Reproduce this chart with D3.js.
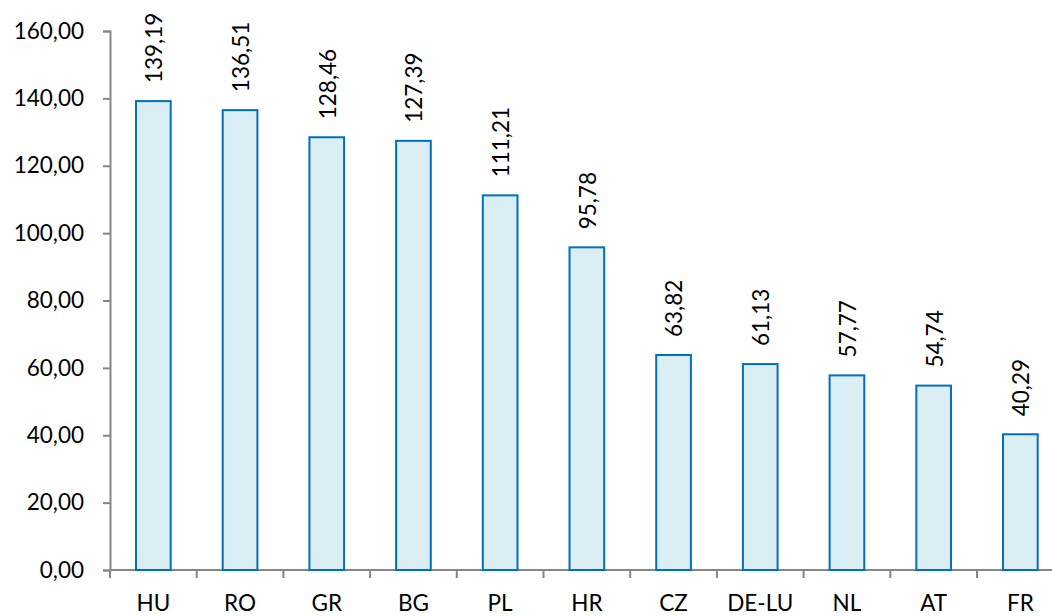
<!DOCTYPE html>
<html>
<head>
<meta charset="utf-8">
<script src="https://cdn.jsdelivr.net/npm/d3@7"></script>
<style>
  html, body { margin: 0; padding: 0; background: #fff; overflow: hidden; }
  svg { display: block; }
  text { font-family: "Lato", "Open Sans", sans-serif; fill: #000; }
</style>
</head>
<body>
<svg id="chart" width="1052" height="616"></svg>
<script>
// Country codes and their values
const categories = ["HU", "RO", "GR", "BG", "PL", "HR", "CZ", "DE-LU", "NL", "AT", "FR"];
const values = [139.19, 136.51, 128.46, 127.39, 111.21, 95.78, 63.82, 61.13, 57.77, 54.74, 40.29];
const yTicks = [0, 20, 40, 60, 80, 100, 120, 140, 160];

const svg = d3.select("#chart");
const x0 = 110, y0 = 570, yTop = 31;
const band = 86.7;
const fontSize = "22.5px";

const fmt = v => d3.format(".2f")(v).replace(".", ",");

const x = d3.scaleBand()
  .domain(categories)
  .range([x0, x0 + band * categories.length])
  .paddingInner(0.6)
  .paddingOuter(0.3);

const y = d3.scaleLinear().domain([0, 160]).range([y0, yTop]);

// Y axis
const yAxis = svg.append("g")
  .attr("transform", `translate(${x0},0)`)
  .call(d3.axisLeft(y).tickValues(yTicks).tickFormat(fmt).tickSize(7).tickPadding(19));
yAxis.select(".domain").attr("stroke", "#868686").attr("stroke-width", 2);
yAxis.selectAll(".tick line").attr("stroke", "#868686").attr("stroke-width", 2);
yAxis.selectAll(".tick text").style("font-size", fontSize).attr("fill", "#000");

// X axis: line and boundary ticks between categories
const xg = svg.append("g");
xg.append("line")
  .attr("x1", x0).attr("x2", 1052)
  .attr("y1", y0).attr("y2", y0)
  .attr("stroke", "#868686").attr("stroke-width", 2);
xg.selectAll("line.tk")
  .data(d3.range(categories.length + 1))
  .join("line")
  .attr("class", "tk")
  .attr("x1", i => x0 + i * band).attr("x2", i => x0 + i * band)
  .attr("y1", y0).attr("y2", y0 + 8)
  .attr("stroke", "#868686").attr("stroke-width", 2);
xg.selectAll("text")
  .data(categories)
  .join("text")
  .attr("x", d => x(d) + x.bandwidth() / 2)
  .attr("y", 611)
  .attr("text-anchor", "middle")
  .style("font-size", fontSize)
  .text(d => d);

// Bars
svg.selectAll("rect.bar")
  .data(values)
  .join("rect")
  .attr("class", "bar")
  .attr("x", (d, i) => x(categories[i]))
  .attr("y", d => y(d))
  .attr("width", x.bandwidth())
  .attr("height", d => y0 - y(d))
  .attr("fill", "#DAEEF3")
  .attr("stroke", "#0070C0")
  .attr("stroke-width", 2);

// Value labels, rotated above each bar
svg.selectAll("text.val")
  .data(values)
  .join("text")
  .attr("class", "val")
  .attr("transform", (d, i) => `translate(${x(categories[i]) + x.bandwidth() / 2 + 1},${y(d) - 18}) rotate(-90)`)
  .attr("dy", "0.35em")
  .attr("text-anchor", "start")
  .style("font-size", fontSize)
  .text(d => fmt(d));
</script>
</body>
</html>
